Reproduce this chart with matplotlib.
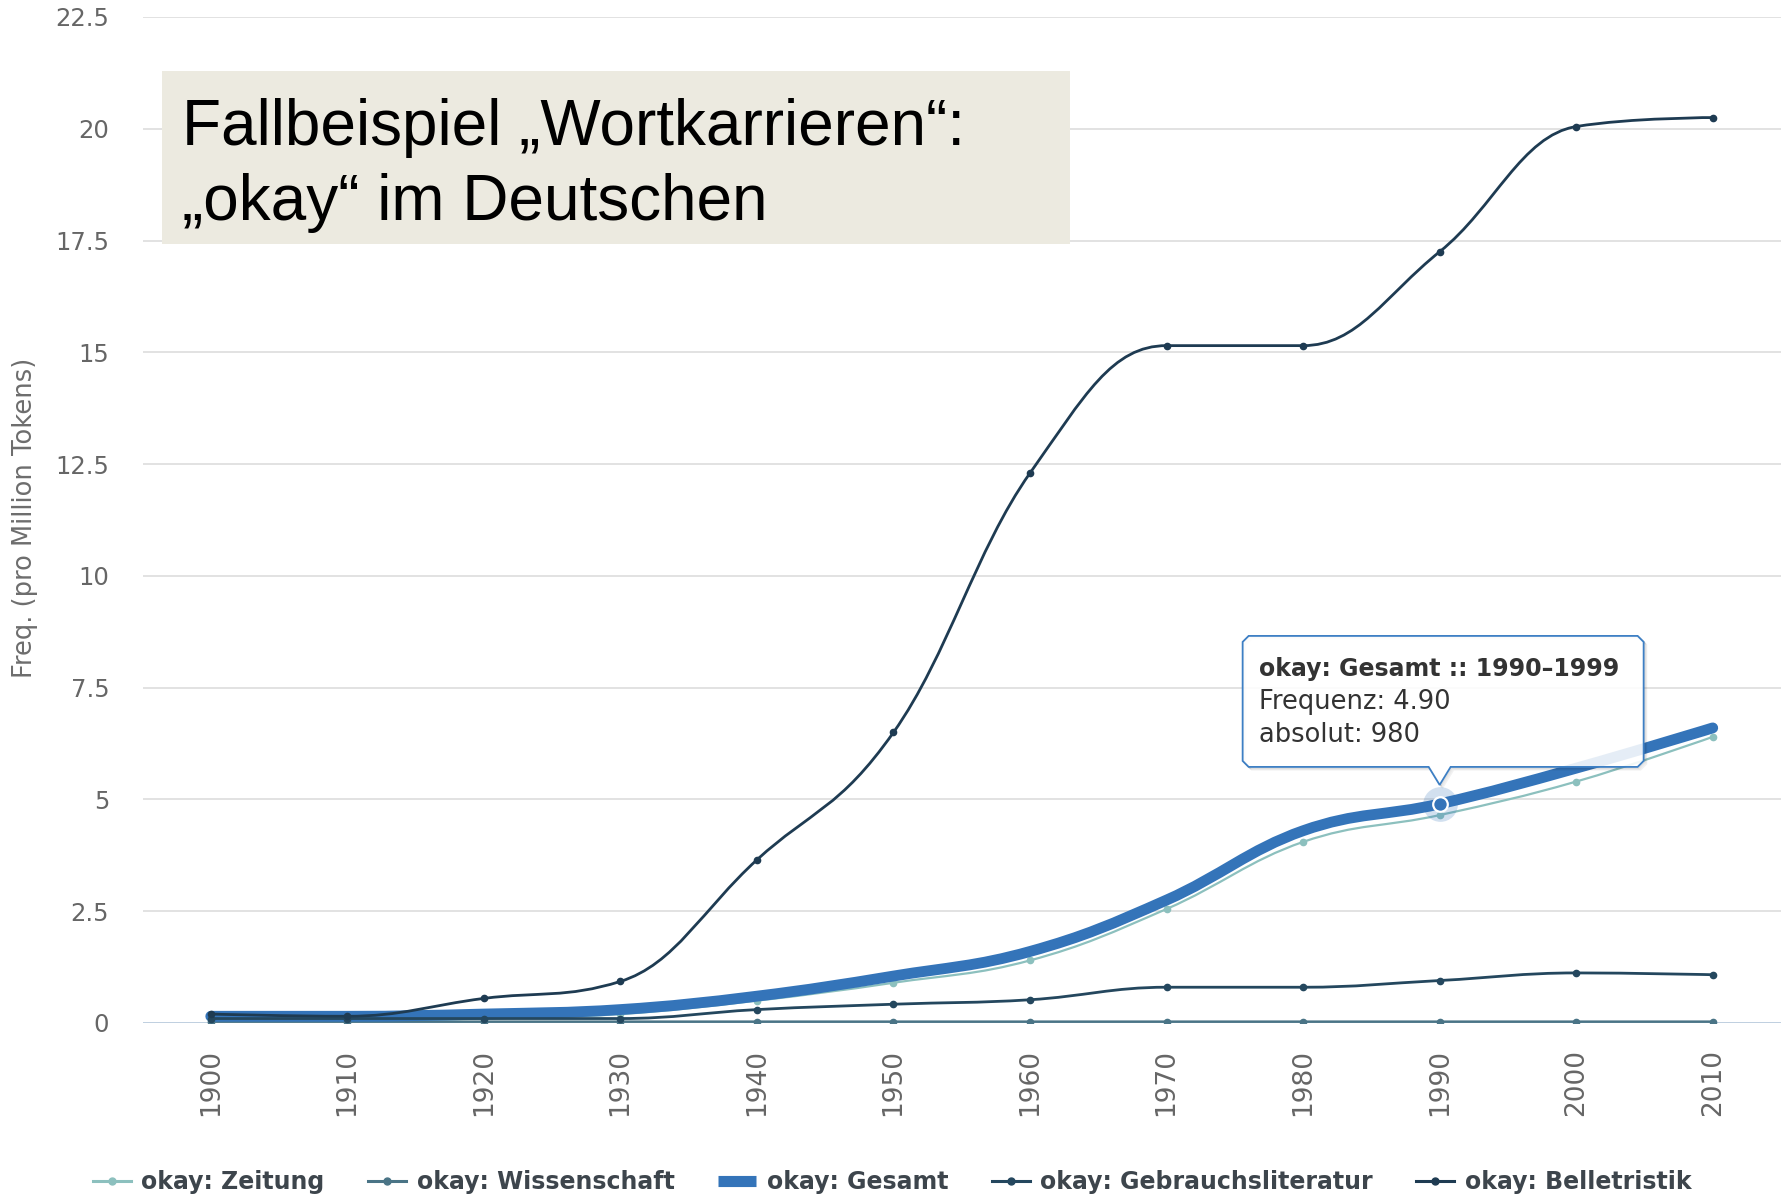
import numpy as np
import matplotlib
matplotlib.use("Agg")
import matplotlib.pyplot as plt
from matplotlib.path import Path
from matplotlib.patches import PathPatch, Rectangle, Polygon
from matplotlib.lines import Line2D
from matplotlib.transforms import IdentityTransform

# ---------------- data ----------------
years = [1900, 1910, 1920, 1930, 1940, 1950, 1960, 1970, 1980, 1990, 2000, 2010]
zeitung = [0.05, 0.05, 0.10, 0.20, 0.50, 0.90, 1.40, 2.55, 4.05, 4.65, 5.40, 6.40]
wissenschaft = [0.03, 0.03, 0.03, 0.03, 0.03, 0.03, 0.03, 0.03, 0.03, 0.03, 0.03, 0.03]
gesamt = [0.15, 0.15, 0.20, 0.30, 0.60, 1.05, 1.60, 2.75, 4.30, 4.90, 5.70, 6.60]
gebrauch = [0.10, 0.10, 0.10, 0.10, 0.30, 0.42, 0.52, 0.80, 0.80, 0.95, 1.12, 1.08]
belletristik = [0.20, 0.15, 0.55, 0.93, 3.65, 6.50, 12.30, 15.15, 15.15, 17.25, 20.05, 20.25]
series_names = ["okay: Zeitung", "okay: Wissenschaft", "okay: Gesamt",
                "okay: Gebrauchsliteratur", "okay: Belletristik"]
yticks = [0, 2.5, 5, 7.5, 10, 12.5, 15, 17.5, 20, 22.5]
ytick_labels = ["0", "2.5", "5", "7.5", "10", "12.5", "15", "17.5", "20", "22.5"]
title_lines = ["Fallbeispiel \u201eWortkarrieren\u201c:", "\u201eokay\u201c im Deutschen"]
ylabel = "Freq. (pro Million Tokens)"
tooltip_lines = ["okay: Gesamt :: 1990\u20131999", "Frequenz: 4.90", "absolut: 980"]
hover_year = 1990
hover_value = 4.90

# ---------------- helpers ----------------
def spline_path(x, y, smoothing=1.5):
    """Highcharts-style spline through the points, as cubic Bezier path."""
    n = len(x)
    denom = smoothing + 1
    rc = [None] * n
    lc = [None] * n
    for i in range(1, n - 1):
        px, py = x[i], y[i]
        lx, ly = x[i - 1], y[i - 1]
        nx, ny = x[i + 1], y[i + 1]
        lcx = (smoothing * px + lx) / denom
        lcy = (smoothing * py + ly) / denom
        rcx = (smoothing * px + nx) / denom
        rcy = (smoothing * py + ny) / denom
        corr = ((rcy - lcy) * (rcx - px)) / (rcx - lcx) + py - rcy
        lcy += corr
        rcy += corr
        if lcy > ly and lcy > py:
            lcy = max(ly, py); rcy = 2 * py - lcy
        elif lcy < ly and lcy < py:
            lcy = min(ly, py); rcy = 2 * py - lcy
        if rcy > ny and rcy > py:
            rcy = max(ny, py); lcy = 2 * py - rcy
        elif rcy < ny and rcy < py:
            rcy = min(ny, py); lcy = 2 * py - rcy
        lc[i] = (lcx, lcy)
        rc[i] = (rcx, rcy)
    verts = [(x[0], y[0])]
    codes = [Path.MOVETO]
    for i in range(1, n):
        c1 = rc[i - 1] if rc[i - 1] is not None else (x[i - 1], y[i - 1])
        c2 = lc[i] if lc[i] is not None else (x[i], y[i])
        verts += [c1, c2, (x[i], y[i])]
        codes += [Path.CURVE4] * 3
    return Path(verts, codes)

plt.rcParams["font.family"] = ["DejaVu Sans"]
title_family = ["Liberation Sans", "DejaVu Sans"]

W, H = 1788, 1199
fig = plt.figure(figsize=(W / 100, H / 100), dpi=100)
fig.patch.set_facecolor("white")
ax = fig.add_axes([142.5 / W, 1 - 1023 / H, (1781 - 142.5) / W, (1023 - 17) / H])
ax.set_xlim(1895, 2015)
ax.set_ylim(0, 22.5)
for s in ax.spines.values():
    s.set_visible(False)
ax.set_yticks(yticks)
ax.set_yticklabels(ytick_labels)
ax.set_xticks(years)
ax.set_xticklabels([str(y) for y in years], rotation=90)
ax.tick_params(axis="y", length=0, pad=24, labelsize=17.5, labelcolor="#666666")
ax.tick_params(axis="x", length=0, pad=19, labelsize=19, labelcolor="#666666")
ax.yaxis.grid(True, color="#e2e2e2", lw=1.4, zorder=0)
ax.set_axisbelow(True)
ax.axhline(0, color="#c0d0e0", lw=1.4, zorder=1)

colors = ["#8cc0be", "#4a7486", "#3474b9", "#24475e", "#1e3b52"]
widths = [1.6, 1.8, 7.8, 2.0, 2.0]
data = [zeitung, wissenschaft, gesamt, gebrauch, belletristik]
handles = []
for k, (vals, col, lw, name) in enumerate(zip(data, colors, widths, series_names)):
    path = spline_path(years, vals)
    patch = PathPatch(path, fill=False, edgecolor=col, lw=lw, capstyle="round",
                      joinstyle="round", zorder=3 + k)
    ax.add_patch(patch)
    if name != "okay: Gesamt":
        ax.plot(years, vals, linestyle="none", marker="o", ms=4.5, color=col, zorder=3 + k)
        handles.append(Line2D([], [], color=col, lw=2.2, marker="o", ms=5))
    else:
        handles.append(Line2D([], [], color=col, lw=8, solid_capstyle="butt"))

# hover highlight
ax.plot([hover_year], [hover_value], marker="o", ms=25, color="#3474b9", alpha=0.22,
        linestyle="none", zorder=10, markeredgewidth=0)
ax.plot([hover_year], [hover_value], marker="o", ms=10.5, color="#3474b9",
        markeredgecolor="white", markeredgewidth=1.6, linestyle="none", zorder=11)

# title box
fig.patches.append(Rectangle((162 / W, 1 - 244 / H), (1070 - 162) / W, (244 - 71) / H,
                             transform=fig.transFigure, facecolor="#eceae0",
                             edgecolor="none", zorder=20))
fig.text(182 / W, 1 - 145 / H, title_lines[0], fontsize=46, family=title_family,
         color="black", va="baseline", ha="left", zorder=21)
fig.text(182 / W, 1 - 220 / H, title_lines[1], fontsize=46, family=title_family,
         color="black", va="baseline", ha="left", zorder=21)

# y label
fig.text(25 / W, 1 - 518 / H, ylabel, rotation=90, fontsize=18.5, color="#6d6d6d",
         ha="center", va="center")

# legend
fig.legend(handles, series_names, ncol=5, loc="center", bbox_to_anchor=(0.499, 1 - 1182 / H),
           frameon=False, prop={"weight": "bold", "size": 17},
           handlelength=1.6, handletextpad=0.45, columnspacing=1.85, labelcolor="#3d454c")

# tooltip (pixel coords relative to hovered point)
fig.canvas.draw()
px, py = ax.transData.transform((hover_year, hover_value))
L, R, B, T = px - 197, px + 204, py + 37, py + 168
r = 6
box = [(L + r, B), (px - 11, B), (px, py + 19), (px + 11, B), (R - r, B), (R, B + r),
       (R, T - r), (R - r, T), (L + r, T), (L, T - r), (L, B + r), (L + r, B)]
for d, a in ((3, 0.05), (2, 0.08), (1, 0.12)):
    sh = Polygon([(vx + d, vy - d) for vx, vy in box], closed=True,
                 transform=IdentityTransform(), facecolor="none",
                 edgecolor="black", lw=1.0, alpha=a, zorder=30)
    fig.patches.append(sh)
tip = Polygon(box, closed=True, transform=IdentityTransform(), facecolor="white",
              alpha=0.88, edgecolor="none", zorder=31)
fig.patches.append(tip)
tip_edge = Polygon(box, closed=True, transform=IdentityTransform(), facecolor="none",
                   edgecolor="#3d7fc4", lw=1.3, zorder=32)
fig.patches.append(tip_edge)
offs = [135, 102, 69]
for line, off, wt, fs in zip(tooltip_lines, offs, ["bold", "normal", "normal"], [17, 18.5, 18.5]):
    x_, y_ = fig.transFigure.inverted().transform((px - 181, py + off))
    fig.text(x_, y_, line, fontsize=fs, weight=wt, color="#333333", ha="left",
             va="center", zorder=33)

fig.savefig("out.png", dpi=100, facecolor="white")
